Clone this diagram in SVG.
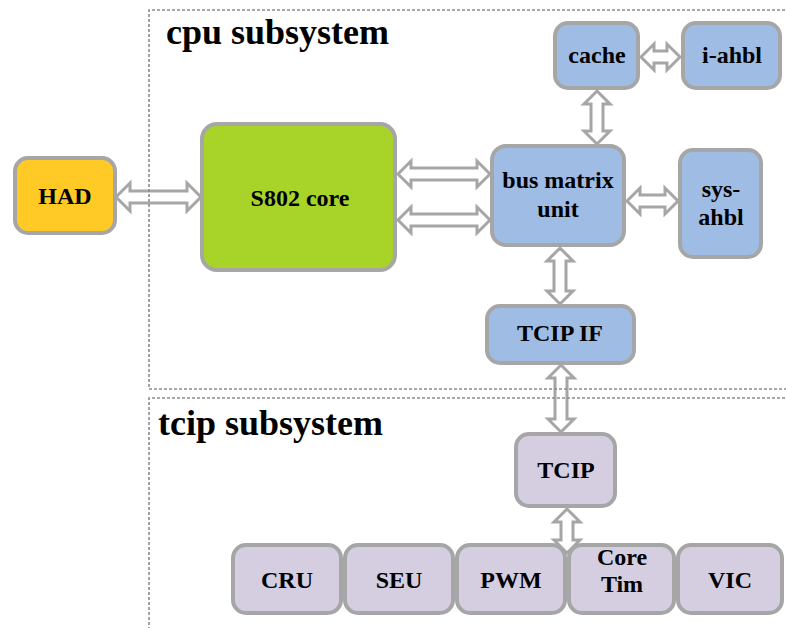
<svg xmlns="http://www.w3.org/2000/svg" width="786" height="628" viewBox="0 0 786 628">
  <style>
    .box { stroke: #A6A6A6; stroke-width: 4; }
    .had { fill: #FFC926; }
    .core { fill: #A8D42A; }
    .cpu { fill: #9FBCE4; }
    .tcip { fill: #D4CEE0; }
    .link { fill: #FFFFFF; stroke: #A6A6A6; stroke-width: 3; stroke-linejoin: miter; }
    .frame { fill: none; stroke: #8C8C8C; stroke-width: 1.6; stroke-dasharray: 3 2; }
  </style>

  <rect width="786" height="628" fill="#FFFFFF"/>

  <!-- nodes -->
  <g font-family="'Liberation Serif', 'Times New Roman', serif" font-weight="bold" font-size="24" text-anchor="middle" fill="#000000">
    <g id="had">
      <rect class="box had" x="15" y="158" width="100" height="75" rx="13"/>
      <text x="65" y="204">HAD</text>
    </g>
    <g id="s802-core">
      <rect class="box core" x="202" y="124" width="193" height="146" rx="15"/>
      <text x="300" y="206">S802 core</text>
    </g>
    <g id="bus-matrix">
      <rect class="box cpu" x="492" y="146" width="132" height="99" rx="14"/>
      <text x="558" y="188">bus matrix</text>
      <text x="558" y="217">unit</text>
    </g>
    <g id="cache">
      <rect class="box cpu" x="555" y="23" width="83" height="65" rx="13"/>
      <text x="597" y="63">cache</text>
    </g>
    <g id="i-ahbl">
      <rect class="box cpu" x="683" y="23" width="97" height="65" rx="13"/>
      <text x="732" y="63">i-ahbl</text>
    </g>
    <g id="sys-ahbl">
      <rect class="box cpu" x="680" y="150" width="81" height="107" rx="13"/>
      <text x="721" y="197">sys-</text>
      <text x="721" y="225">ahbl</text>
    </g>
    <g id="tcip-if">
      <rect class="box cpu" x="487" y="306" width="147" height="57" rx="13"/>
      <text x="560" y="341">TCIP IF</text>
    </g>
    <g id="tcip">
      <rect class="box tcip" x="516" y="434" width="99" height="72" rx="13"/>
      <text x="566" y="478">TCIP</text>
    </g>
    <g id="cru">
      <rect class="box tcip" x="233" y="545" width="108" height="68" rx="13"/>
      <text x="287" y="588">CRU</text>
    </g>
    <g id="seu">
      <rect class="box tcip" x="345" y="545" width="108" height="68" rx="13"/>
      <text x="399" y="588">SEU</text>
    </g>
    <g id="pwm">
      <rect class="box tcip" x="457" y="545" width="108" height="68" rx="13"/>
      <text x="511" y="588">PWM</text>
    </g>
    <g id="core-tim">
      <rect class="box tcip" x="569" y="545" width="105" height="68" rx="13"/>
      <text x="622" y="565">Core</text>
      <text x="622" y="592">Tim</text>
    </g>
    <g id="vic">
      <rect class="box tcip" x="678" y="545" width="104" height="68" rx="13"/>
      <text x="730" y="588">VIC</text>
    </g>
  </g>

  <!-- connectors: hollow double-headed arrows -->
  <g id="connectors">
    <!-- HAD <-> S802 core -->
    <polygon class="link" points="116,197 130,183 130,191 187,191 187,183 201,197 187,211 187,203 130,203 130,211"/>
    <!-- S802 core <-> bus matrix (upper) -->
    <polygon class="link" points="398,174 411,161 411,168 477,168 477,161 490,174 477,187 477,180 411,180 411,187"/>
    <!-- S802 core <-> bus matrix (lower) -->
    <polygon class="link" points="398,220 411,207 411,214 477,214 477,207 490,220 477,233 477,226 411,226 411,233"/>
    <!-- cache <-> i-ahbl -->
    <polygon class="link" points="641,57 654,44 654,51 667,51 667,44 680,57 667,70 667,63 654,63 654,70"/>
    <!-- cache <-> bus matrix -->
    <polygon class="link" points="597,91 610,104 603,104 603,131 610,131 597,144 584,131 591,131 591,104 584,104"/>
    <!-- bus matrix <-> sys-ahbl -->
    <polygon class="link" points="627,201 640,188 640,195 665,195 665,188 678,201 665,214 665,207 640,207 640,214"/>
    <!-- bus matrix <-> TCIP IF -->
    <polygon class="link" points="560,248 573,261 566,261 566,291 573,291 560,304 547,291 554,291 554,261 547,261"/>
    <!-- TCIP IF <-> TCIP -->
    <polygon class="link" points="561,365 574,378 567,378 567,419 574,419 561,432 548,419 555,419 555,378 548,378"/>
    <!-- TCIP <-> peripheral row -->
    <polygon class="link" points="567,509 580,522 573,522 573,540 580,540 567,553 554,540 561,540 561,522 554,522"/>
  </g>

  <!-- subsystem frames -->
  <g font-family="'Liberation Serif', 'Times New Roman', serif" font-weight="bold" font-size="36" fill="#000000">
    <g id="cpu-subsystem">
      <path class="frame" d="M790,10 H149 V389 H790"/>
      <text x="166" y="44">cpu subsystem</text>
    </g>
    <g id="tcip-subsystem">
      <path class="frame" d="M790,398 H149 V632"/>
      <text x="158" y="435">tcip subsystem</text>
    </g>
  </g>
</svg>
